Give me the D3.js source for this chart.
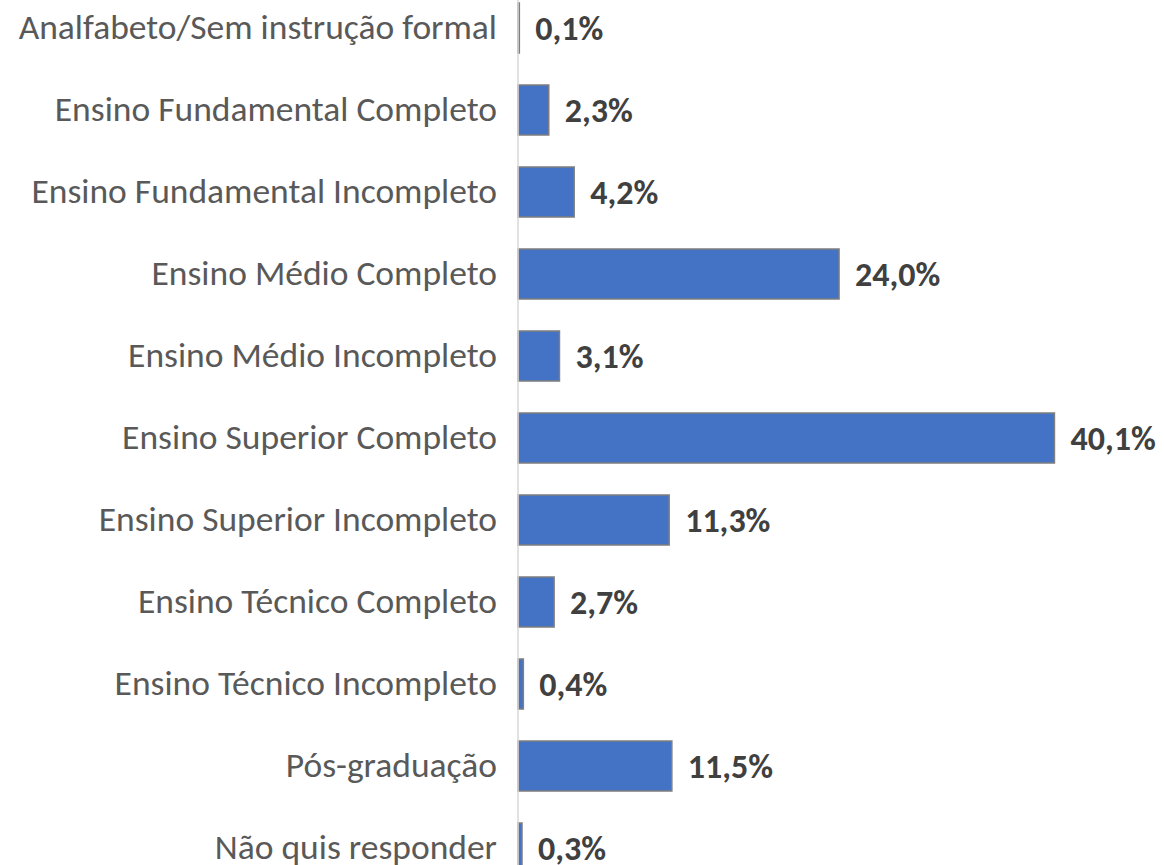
<!DOCTYPE html>
<html>
<head>
<meta charset="utf-8">
<script src="https://cdn.jsdelivr.net/npm/d3@7"></script>
<style>
  html, body { margin: 0; padding: 0; background: #ffffff; }
  svg { display: block; }
</style>
</head>
<body>
<svg id="chart" width="1164" height="865"></svg>
<script>
// Escolaridade dos respondentes (share of answers)
const categories = [
  "Analfabeto/Sem instrução formal",
  "Ensino Fundamental Completo",
  "Ensino Fundamental Incompleto",
  "Ensino Médio Completo",
  "Ensino Médio Incompleto",
  "Ensino Superior Completo",
  "Ensino Superior Incompleto",
  "Ensino Técnico Completo",
  "Ensino Técnico Incompleto",
  "Pós-graduação",
  "Não quis responder"
];
const values = [0.001, 0.023, 0.042, 0.240, 0.031, 0.401, 0.113, 0.027, 0.004, 0.115, 0.003];
const xDomain = [0, 0.45];

const width = 1164, height = 865;
const axisX = 518;
const fontFamily = "Carlito, Calibri, 'Open Sans', sans-serif";

const svg = d3.select("#chart");

const x = d3.scaleLinear().domain(xDomain).range([axisX, 1120]);
const y = d3.scaleBand()
  .domain(categories)
  .range([-13, 889])
  .paddingInner(0.39)
  .paddingOuter(0.195);

const pt = d3.formatLocale({decimal: ",", thousands: ".", grouping: [3], currency: ["R$", ""]});
const fmt = pt.format(".1%");

// bars
svg.append("g")
  .selectAll("rect")
  .data(values)
  .join("rect")
  .attr("x", x(0))
  .attr("y", (d, i) => y(categories[i]))
  .attr("width", d => x(d) - x(0))
  .attr("height", y.bandwidth())
  .attr("fill", "#4472c4")
  .attr("stroke", "#7f7f7f")
  .attr("stroke-width", 1.5);

// category axis line
svg.append("line")
  .attr("x1", axisX).attr("x2", axisX)
  .attr("y1", 0).attr("y2", height)
  .attr("stroke", "#d9d9d9")
  .attr("stroke-width", 1.5);

// category labels
const yAxis = d3.axisLeft(y).tickSize(0).tickPadding(21);
const gy = svg.append("g")
  .attr("transform", `translate(${axisX},0)`)
  .call(yAxis);
gy.select(".domain").remove();
gy.selectAll("text")
  .attr("fill", "#595959")
  .style("font-family", fontFamily)
  .style("font-size", "35.5px");

// value labels
svg.append("g")
  .selectAll("text")
  .data(values)
  .join("text")
  .attr("x", d => x(d) + 16)
  .attr("y", (d, i) => y(categories[i]) + y.bandwidth() / 2)
  .attr("dy", "0.35em")
  .attr("fill", "#404040")
  .style("font-family", fontFamily)
  .style("font-size", "34px")
  .style("font-weight", "bold")
  .text(d => fmt(d));
</script>
</body>
</html>
